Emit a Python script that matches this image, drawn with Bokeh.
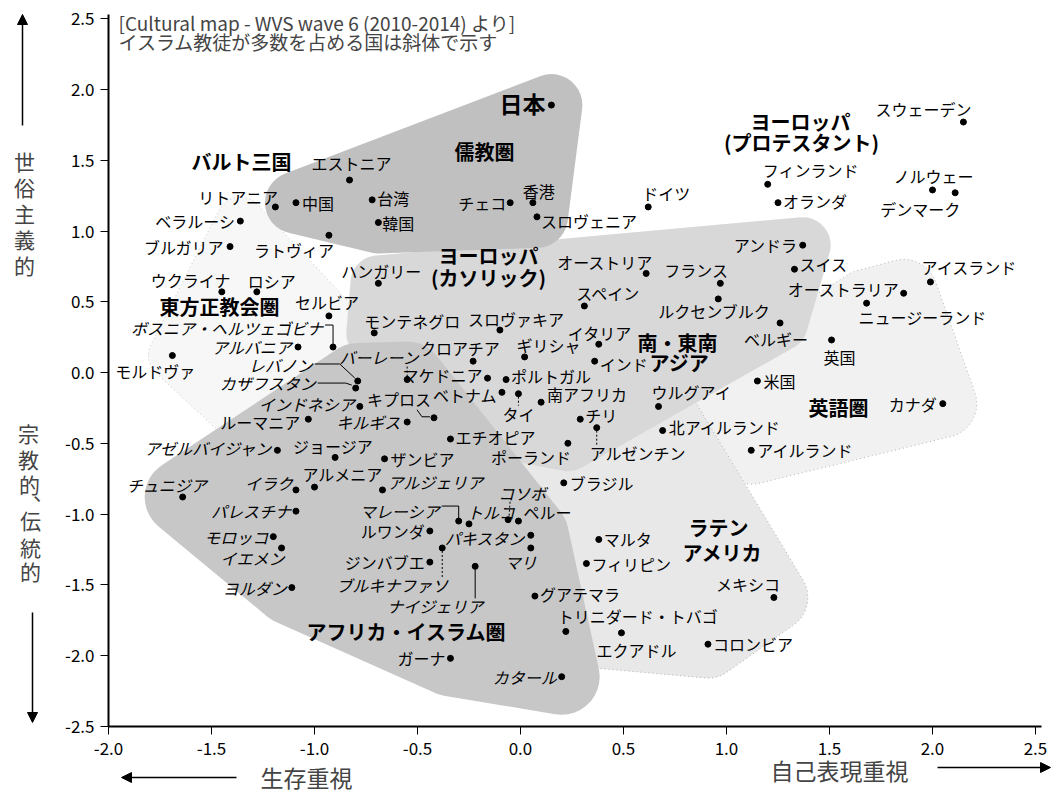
import math
from bokeh.plotting import figure
from bokeh.models import (ColumnDataSource, Label, Arrow, NormalHead, FixedTicker,
                          PrintfTickFormatter, Range1d)
from bokeh.embed import file_html
from bokeh.resources import INLINE
from bokeh.core.properties import value

FONT = "Noto Sans CJK JP"

# ---------------- data ----------------
countries = ["日本", "中国", "台湾", "韓国", "香港", "チェコ", "スロヴェニア",
             "エストニア", "リトアニア", "ラトヴィア",
             "ベラルーシ", "ブルガリア", "ウクライナ", "ロシア", "セルビア",
             "ボスニア・ヘルツェゴビナ", "アルバニア", "モルドヴァ", "ルーマニア",
             "ジョージア", "アルメニア", "アゼルバイジャン",
             "スウェーデン", "フィンランド", "オランダ", "ノルウェー", "デンマーク",
             "ドイツ", "スイス", "アイスランド",
             "アンドラ", "ハンガリー", "オーストリア", "フランス", "スペイン",
             "ルクセンブルク", "ベルギー", "モンテネグロ", "スロヴァキア", "イタリア",
             "クロアチア", "ポルトガル", "マケドニア", "ギリシャ", "ポーランド", "キプロス",
             "オーストラリア", "ニュージーランド", "英国", "米国", "カナダ",
             "北アイルランド", "アイルランド",
             "インド", "ベトナム", "タイ", "南アフリカ", "フィリピン", "マレーシア",
             "ウルグアイ", "チリ", "アルゼンチン", "ブラジル", "ペルー", "マルタ",
             "グアテマラ", "トリニダード・トバゴ", "エクアドル", "メキシコ", "コロンビア",
             "コソボ", "チュニジア", "イラク", "パレスチナ", "モロッコ", "イエメン",
             "ヨルダン", "アルジェリア", "トルコ", "ルワンダ", "パキスタン", "マリ",
             "ジンバブエ", "ブルキナファソ", "ナイジェリア", "ガーナ", "カタール",
             "エチオピア", "ザンビア", "キルギス", "レバノン", "カザフスタン",
             "インドネシア", "バーレーン"]

self_expression = [0.15, -1.09, -0.72, -0.69, 0.06, -0.05, 0.08,
                   -0.83, -1.19, -0.93,
                   -1.36, -1.41, -1.45, -1.28, -0.93,
                   -0.91, -1.08, -1.69, -1.03,
                   -0.90, -1.00, -1.18,
                   2.15, 1.20, 1.25, 2.00, 2.11,
                   0.62, 1.33, 1.99,
                   1.37, -0.69, 0.61, 0.97, 0.31,
                   0.96, 1.26, -0.71, -0.10, 0.38,
                   -0.23, -0.07, -0.16, 0.02, 0.23, -0.42,
                   1.86, 1.68, 1.51, 1.15, 2.05,
                   0.69, 1.12,
                   0.36, -0.09, -0.01, 0.10, 0.32, -0.30,
                   0.67, 0.29, 0.37, 0.21, -0.01, 0.38,
                   0.07, 0.22, 0.49, 1.23, 0.91,
                   -0.06, -1.64, -1.09, -1.09, -1.20, -1.16,
                   -1.11, -0.67, -0.25, -0.44, 0.05, 0.05,
                   -0.44, -0.38, -0.22, -0.34, 0.20,
                   -0.34, -0.66, -0.55, -0.79, -0.80,
                   -0.78, -0.55]

secular = [1.89, 1.20, 1.22, 1.06, 1.20, 1.20, 1.10,
           1.36, 1.17, 0.97,
           1.07, 0.89, 0.57, 0.57, 0.40,
           0.18, 0.18, 0.12, -0.33,
           -0.60, -0.81, -0.55,
           1.77, 1.33, 1.20, 1.29, 1.27,
           1.17, 0.73, 0.64,
           0.90, 0.63, 0.70, 0.63, 0.47,
           0.52, 0.35, 0.28, 0.30, 0.20,
           0.08, -0.05, -0.04, 0.11, -0.50, -0.32,
           0.56, 0.49, 0.23, -0.06, -0.22,
           -0.41, -0.55,
           0.08, -0.14, -0.15, -0.21, -1.35, -1.05,
           -0.24, -0.33, -0.39, -0.78, -1.05, -1.18,
           -1.58, -1.83, -1.84, -1.59, -1.92,
           -1.04, -0.88, -0.83, -0.98, -1.16, -1.24,
           -1.52, -0.83, -1.07, -1.12, -1.15, -1.24,
           -1.34, -1.24, -1.37, -2.02, -2.15,
           -0.47, -0.61, -0.35, -0.06, -0.11,
           -0.24, -0.05]

region = (["confucian"] * 7 + ["baltic"] * 3 + ["orthodox"] * 11 + ["african_islamic"]
          + ["protestant"] * 8 + ["catholic"] * 16 + ["english"] * 7
          + ["south_asia"] * 5 + ["african_islamic"]
          + ["latin"] * 11 + ["african_islamic"] * 24)

muslim_countries = ["ボスニア・ヘルツェゴビナ", "アルバニア", "アゼルバイジャン", "マレーシア",
                    "コソボ", "チュニジア", "イラク", "パレスチナ", "モロッコ", "イエメン",
                    "ヨルダン", "アルジェリア", "トルコ", "パキスタン", "マリ", "ブルキナファソ",
                    "ナイジェリア", "カタール", "キルギス", "レバノン", "カザフスタン",
                    "インドネシア", "バーレーン"]

x_ticks = [-2.0, -1.5, -1.0, -0.5, 0.0, 0.5, 1.0, 1.5, 2.0, 2.5]
y_ticks = [-2.5, -2.0, -1.5, -1.0, -0.5, 0.0, 0.5, 1.0, 1.5, 2.0, 2.5]

# ---------------- layout ----------------
W, H = 1059, 796
OX, OY = 520, 372          # canvas position of the data origin
KX, KY = 206.0, 141.5      # pixels per data unit
X0, X1 = -OX / KX, (W - OX) / KX
Y0, Y1 = -(H - OY) / KY, OY / KY


def cx(px):
    return (px - OX) / KX


def cy(py):
    return (OY - py) / KY


# label placement: (align, dx px, dy px downward)
label_pos = {
    "日本": ("right", -6, -2), "中国": ("left", 6, 0), "台湾": ("left", 5, -2),
    "韓国": ("left", 4, 0), "香港": ("left", -10, -12), "チェコ": ("right", -4, 0),
    "スロヴェニア": ("left", 4, 4), "エストニア": ("center", 2, -17),
    "リトアニア": ("right", 3, -10), "ラトヴィア": ("right", 5, 15),
    "ベラルーシ": ("right", -5, 0), "ブルガリア": ("right", -6, 0),
    "ウクライナ": ("right", 9, -12), "ロシア": ("left", -9, -11),
    "セルビア": ("center", -2, -14), "ボスニア・ヘルツェゴビナ": ("right", -10, -19),
    "アルバニア": ("right", -6, 0), "モルドヴァ": ("center", -17, 15),
    "ルーマニア": ("right", -8, 3), "ジョージア": ("center", -2, -11),
    "アルメニア": ("left", -12, -13), "アゼルバイジャン": ("right", -5, -2),
    "スウェーデン": ("right", 8, -13), "フィンランド": ("left", -5, -14),
    "オランダ": ("left", 5, -2), "ノルウェー": ("center", 1, -14),
    "デンマーク": ("right", 5, 16), "ドイツ": ("left", -6, -14),
    "スイス": ("left", 5, -5), "アイスランド": ("left", -9, -15),
    "アンドラ": ("right", -5, 0), "ハンガリー": ("center", 3, -12),
    "オーストリア": ("right", 7, -11), "フランス": ("right", 8, -13),
    "スペイン": ("left", -8, -13), "ルクセンブルク": ("center", -4, 12),
    "ベルギー": ("center", -4, 16), "モンテネグロ": ("left", -10, -12),
    "スロヴァキア": ("center", 16, -11), "イタリア": ("center", 1, -11),
    "クロアチア": ("center", -13, -13), "ポルトガル": ("left", 5, -4),
    "マケドニア": ("right", -5, -3), "ギリシャ": ("left", -8, -12),
    "ポーランド": ("right", 3, 14), "キプロス": ("center", -35, -19),
    "オーストラリア": ("right", -4, -4), "ニュージーランド": ("left", -8, 14),
    "英国": ("center", 8, 17), "米国": ("left", 6, 0), "カナダ": ("right", -6, 0),
    "北アイルランド": ("left", 6, -4), "アイルランド": ("left", 6, 0),
    "インド": ("left", 5, 3), "ベトナム": ("right", -5, 3), "タイ": ("center", 0, 20),
    "南アフリカ": ("left", 6, -8), "フィリピン": ("left", 5, 0),
    "マレーシア": ("right", -19, -10), "ウルグアイ": ("left", -7, -14),
    "チリ": ("left", 5, -4), "アルゼンチン": ("left", -7, 25),
    "ブラジル": ("left", 6, 0), "ペルー": ("left", 5, -9), "マルタ": ("left", 5, 0),
    "グアテマラ": ("left", 5, -2), "トリニダード・トバゴ": ("left", -8, -15),
    "エクアドル": ("center", 15, 17), "メキシコ": ("right", 6, -13),
    "コロンビア": ("left", 5, 0), "コソボ": ("center", 14, -27),
    "チュニジア": ("center", -16, -12), "イラク": ("right", -3, -7),
    "パレスチナ": ("right", -5, 0), "モロッコ": ("right", -5, 0),
    "イエメン": ("right", 3, 10), "ヨルダン": ("right", -5, 0),
    "アルジェリア": ("left", 5, -8), "トルコ": ("left", -2, -12),
    "ルワンダ": ("right", -5, 0), "パキスタン": ("right", -6, 3),
    "マリ": ("center", -10, 14), "ジンバブエ": ("right", -5, 0),
    "ブルキナファソ": ("right", 6, 37), "ナイジェリア": ("right", 8, 40),
    "ガーナ": ("right", -5, 0), "カタール": ("right", -5, 0),
    "エチオピア": ("left", 5, -2), "ザンビア": ("left", 6, 0),
    "キルギス": ("right", -7, 0), "レバノン": ("right", -45, -16),
    "カザフスタン": ("right", -40, -5), "インドネシア": ("right", -5, -2),
    "バーレーン": ("center", -28, -23),
}

leaders = {
    "ボスニア・ヘルツェゴビナ": ([(0, -3), (0, -22), (-8, -22)], "solid"),
    "レバノン": ([(-3, -3), (-18, -17), (-43, -17)], "solid"),
    "カザフスタン": ([(-4, -3), (-10, -5), (-38, -5)], "solid"),
    "バーレーン": ([(0, -3), (0, -15)], "2 2"),
    "キプロス": ([(-4, -1), (-12, -1), (-17, -8)], "solid"),
    "マレーシア": ([(0, -3), (0, -15), (-17, -15)], "solid"),
    "コソボ": ([(1, -4), (2, -19)], "2 2"),
    "タイ": ([(0, 3), (0, 12)], "2 2"),
    "アルゼンチン": ([(0, 3), (0, 17)], "2 2"),
    "ブルキナファソ": ([(0, 3), (0, 29)], "2 2"),
    "ナイジェリア": ([(0, 3), (0, 32)], "solid"),
}

group_labels = [
    ("バルト三国", -1.354, 1.491), ("儒教圏", -0.175, 1.562),
    ("ヨーロッパ", 1.359, 1.774), ("(プロテスタント)", 1.364, 1.625),
    ("東方正教会圏", -1.461, 0.466),
    ("ヨーロッパ", -0.155, 0.827), ("(カソリック)", -0.155, 0.671),
    ("南・東南", 0.762, 0.212), ("アジア", 0.772, 0.071),
    ("英語圏", 1.544, -0.247),
    ("ラテン", 0.961, -1.095), ("アメリカ", 0.981, -1.272),
    ("アフリカ・イスラム圏", -0.553, -1.830),
]

zone_style = [  # drawing order, fill colour, padding px, outline
    ("orthodox", "#f7f7f7", 24, "#c8c8c8"),
    ("english", "#f1f1f1", 34, "#b5b5b5"),
    ("latin", "#e8e8e8", 34, "#b0b0b0"),
    ("catholic", "#d8d8d8", 28, None),
    ("african_islamic", "#c7c7c7", 38, None),
    ("confucian", "#c0c0c0", 31, None),
]


def convex_hull(pts):
    pts = sorted(set(pts))
    if len(pts) <= 2:
        return pts

    def cross(o, a, b):
        return (a[0] - o[0]) * (b[1] - o[1]) - (a[1] - o[1]) * (b[0] - o[0])
    lower, upper = [], []
    for pt in pts:
        while len(lower) >= 2 and cross(lower[-2], lower[-1], pt) <= 0:
            lower.pop()
        lower.append(pt)
    for pt in reversed(pts):
        while len(upper) >= 2 and cross(upper[-2], upper[-1], pt) <= 0:
            upper.pop()
        upper.append(pt)
    return lower[:-1] + upper[:-1]


def padded_hull(xs, ys, pad, n=36):
    pts = []
    for x, y in zip(xs, ys):
        for k in range(n):
            a = 2 * math.pi * k / n
            pts.append((x * KX + pad * math.cos(a), y * KY + pad * math.sin(a)))
    h = convex_hull(pts)
    return [q[0] / KX for q in h], [q[1] / KY for q in h]


# ---------------- figure ----------------
p = figure(width=W, height=H, x_range=Range1d(X0, X1), y_range=Range1d(Y0, Y1),
           output_backend="svg", toolbar_location=None, min_border=0)
p.xgrid.visible = False
p.ygrid.visible = False
p.outline_line_color = None
p.background_fill_color = "white"

for ax, ticks in ((p.xaxis, x_ticks), (p.yaxis, y_ticks)):
    ax.ticker = FixedTicker(ticks=ticks)
    ax.formatter = PrintfTickFormatter(format="%.1f")
    ax.major_tick_in = 0
    ax.major_tick_out = 8
    ax.minor_tick_out = 0
    ax.minor_tick_in = 0
    ax.axis_line_width = 2
    ax.major_tick_line_width = 1
    ax.major_label_text_font = FONT
    ax.major_label_text_font_size = "17px"
    ax.major_label_text_color = "black"
    ax.axis_line_color = "black"
p.xaxis.fixed_location = y_ticks[0]
p.xaxis.bounds = (x_ticks[0], x_ticks[-1] + 0.03)
p.yaxis.fixed_location = x_ticks[0]
p.yaxis.bounds = (y_ticks[0], y_ticks[-1] + 0.03)
p.xaxis.major_label_standoff = 8
p.yaxis.major_label_standoff = 6

# zones
for zname, col, pad, outline in zone_style:
    xs = [x for x, r in zip(self_expression, region) if r == zname]
    ys = [y for y, r in zip(secular, region) if r == zname]
    hx, hy = padded_hull(xs, ys, pad)
    p.patch(hx, hy, fill_color=col, line_color=outline, line_dash="1 3", line_width=1)

# leader lines
for name, (pts, dash) in leaders.items():
    i = countries.index(name)
    lx = [self_expression[i] + dx / KX for dx, dy in pts]
    ly = [secular[i] - dy / KY for dx, dy in pts]
    p.line(lx, ly, line_color="black", line_width=1, line_dash=dash)

# points
p.scatter(self_expression, secular, size=6, color="black")

# country labels
groups = {}
for i, name in enumerate(countries):
    if name == "日本":
        continue
    align, dx, dy = label_pos[name]
    style = "italic" if name in muslim_countries else "normal"
    g = groups.setdefault((align, style), dict(x=[], y=[], t=[], xo=[], yo=[]))
    g["x"].append(self_expression[i]); g["y"].append(secular[i]); g["t"].append(name)
    g["xo"].append(dx); g["yo"].append(dy)
for (align, style), g in groups.items():
    src = ColumnDataSource(g)
    p.text(x="x", y="y", text="t", x_offset="xo", y_offset="yo", source=src,
           text_align=align, text_baseline="middle", text_font=value(FONT),
           text_font_size="16px", text_font_style=style, text_color="black")

ij = countries.index("日本")
al, dx, dy = label_pos["日本"]
p.text(x=[self_expression[ij]], y=[secular[ij]], text=["日本"], x_offset=dx, y_offset=dy,
       text_align=al, text_baseline="middle", text_font=value(FONT),
       text_font_size="23px", text_font_style="bold", text_color="black")

# group labels
p.text(x=[g[1] for g in group_labels], y=[g[2] for g in group_labels],
       text=[g[0] for g in group_labels], text_align="center", text_baseline="middle",
       text_font=value(FONT), text_font_size="20px", text_font_style="bold",
       text_color="black")

# header
p.add_layout(Label(x=cx(118), y=cy(22), text="[Cultural map - WVS wave 6 (2010-2014) より]",
                   text_font=FONT, text_font_size="19px", text_baseline="middle"))
p.add_layout(Label(x=cx(118), y=cy(41), text="イスラム教徒が多数を占める国は斜体で示す",
                   text_font=FONT, text_font_size="19px", text_baseline="middle"))

# axis titles (vertical, upright characters)
for k, ch in enumerate("世俗主義的"):
    p.add_layout(Label(x=cx(24), y=cy(160 + 26 * k), text=ch, text_font=FONT,
                       text_font_size="21px", text_align="center", text_baseline="middle"))
for ch, (px, py) in zip("宗教的、伝統的", [(28, 432), (28, 458), (29, 483), (43, 490),
                                          (30, 519), (30, 546), (30, 570)]):
    p.add_layout(Label(x=cx(px), y=cy(py), text=ch, text_font=FONT,
                       text_font_size="21px", text_align="center", text_baseline="middle"))

p.add_layout(Label(x=cx(306), y=cy(776), text="生存重視", text_font=FONT,
                   text_font_size="23px", text_align="center", text_baseline="middle"))
p.add_layout(Label(x=cx(839), y=cy(769), text="自己表現重視", text_font=FONT,
                   text_font_size="23px", text_align="center", text_baseline="middle"))

for (x0, y0, x1, y1) in ((22, 125, 22, 14), (32, 612, 32, 722),
                         (236, 777, 121, 777), (937, 767, 1050, 767)):
    p.add_layout(Arrow(end=NormalHead(size=10, fill_color="black", line_color="black"),
                       x_start=cx(x0), y_start=cy(y0), x_end=cx(x1), y_end=cy(y1),
                       line_width=1.5, line_color="black"))

open("out.html", "w").write(file_html(p, INLINE))
